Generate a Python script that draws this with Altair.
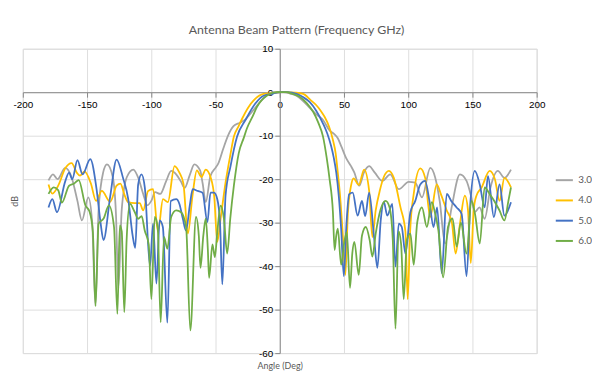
import altair as alt
import pandas as pd

series_names = ["3.0", "4.0", "5.0", "6.0"]
series_colors = ["#A5A5A5", "#FFC000", "#4472C4", "#70AD47"]

x_ticks = [-200, -150, -100, -50, 0, 50, 100, 150, 200]
y_ticks = [-60, -50, -40, -30, -20, -10, 0, 10]

gray = [(-180,-20.3),(-176.5,-18.9),(-173,-20.0),(-167,-17.4),(-162,-19.6),(-157.5,-25.0),(-154,-29.5),
        (-149,-24.2),(-146,-30),(-143.5,-49.0),(-141,-27),(-137.5,-18.5),(-134.5,-16.6),(-130,-19.5),
        (-127.5,-28),(-125.6,-45),(-123,-27),(-119,-19.5),(-114,-17.8),(-110,-19.8),(-106.3,-23.4),
        (-103,-26),(-100,-25),(-97,-23),(-93,-23.4),(-88.5,-20.5),(-84.5,-18.1),(-80.6,-18.9),(-77,-20.5),
        (-74,-22),(-70,-19),(-66.5,-16.6),(-62,-18),(-60,-21),(-57.6,-25.3),(-54,-19.3),(-50,-17.4),
        (-48,-16.5),(-44,-13),(-40,-9.8),(-36,-7.8),(-31,-7),(-27,-6.3),(-23,-5),(-18,-3.2),(-12,-1.2),
        (-5,0),(0,0),(3,0),(8,-0.3),(13,-0.8),(18,-2.0),(23.4,-3.6),(28,-5),(33.7,-6.4),(38.8,-8.8),
        (42,-9.5),(45.2,-10.6),(48,-12.5),(51.6,-15.1),(55.5,-17),(58.1,-18.5),(61.9,-21.5),(65.5,-18.5),
        (69.6,-17.0),(74,-18.5),(79.9,-20.4),(86,-18.9),(92.7,-22.3),(100.4,-20.6),(105.5,-20.8),
        (110.7,-24.2),(117.2,-17.4),(121,-19.6),(124.5,-25),(128.7,-34.8),(133.8,-26.5),(140.3,-18.9),
        (145.4,-20.4),(149,-24),(151.8,-27.6),(155.5,-26.5),(159.5,-29.1),(164,-22),(169.8,-18.1),
        (174.9,-19.7),(180,-17.8)]

yellow = [(-180,-21.2),(-177,-23.3),(-172,-21.2),(-167,-17.5),(-162,-16.3),(-158,-18.5),(-155.5,-19.2),
          (-152,-18.2),(-147,-21),(-143,-25),(-138.5,-22.7),(-132,-25.2),(-127,-21.5),(-124,-21),
          (-121,-23.5),(-117.9,-25.3),(-113,-25.5),(-109,-25.5),(-106.3,-27.2),(-102.5,-22.7),
          (-98.6,-22.3),(-94.8,-32.1),(-90.9,-24.6),(-87.1,-25.3),(-81.9,-17.0),(-78.1,-18.5),(-75,-21),
          (-71.5,-32.5),(-68,-24),(-64.5,-18),(-61,-19.5),(-57.6,-17.8),(-53.7,-19.7),(-51,-24),
          (-48.6,-34.4),(-46,-29),(-42.2,-20.8),(-38.5,-14.5),(-35.7,-10.2),(-32,-7.8),(-29.3,-6.1),
          (-24.5,-3.5),(-20.3,-1.9),(-12.6,-0.4),(-5,-0.2),(0,0),(5,0),(12,-0.1),(18.3,-0.4),(24,-1.8),
          (28.5,-3.0),(32,-4.3),(35,-5.7),(38.5,-8),(41.4,-11),(43.5,-14),(45.2,-18.5),(47,-24),
          (49.1,-32.9),(51.1,-42),(53,-28),(55.5,-21.5),(57.5,-19.8),(61.5,-21.3),(65.7,-17.8),
          (69.6,-22.7),(72.1,-33.3),(74.7,-27.2),(78,-22.5),(81,-19.5),(85,-18.1),(88.8,-19.7),(94,-26.5),
          (97.8,-32),(99.6,-47.6),(101.5,-32),(104.3,-23.4),(109.4,-17.5),(113.2,-19.7),(117.1,-28.7),
          (122.2,-21.2),(125.5,-23.5),(130,-27.2),(134,-30),(136.9,-37.1),(140.3,-30.2),(144.1,-23.8),
          (146.5,-27),(148.7,-39.3),(151,-27),(153.1,-23.8),(157,-22),(163.4,-18.1),(167.5,-20),
          (171.1,-25),(174.9,-19.7),(180,-21.9)]

blue = [(-180,-26.5),(-177,-24.6),(-173.4,-27.6),(-167,-20.5),(-164,-18.5),(-161.5,-20),(-157.5,-15.6),
        (-153.5,-18.9),(-147.5,-15.4),(-142.5,-22.5),(-139.5,-30),(-137.2,-34),(-132,-24),(-127,-15.5),
        (-122,-19.7),(-118,-24.5),(-114.5,-33),(-112.5,-35.8),(-110.2,-21.2),(-107.6,-18.9),(-105,-22),
        (-101,-40),(-98.6,-30.2),(-96,-44),(-93.5,-29.5),(-91,-31),(-87.5,-53),(-84.8,-25),(-80.6,-24.6),
        (-78.1,-25.7),(-75.5,-29),(-73,-31.8),(-70,-26),(-67.8,-22.3),(-63.9,-22.7),(-60.1,-23.1),
        (-56.3,-29.9),(-53.9,-23.1),(-51.2,-23.1),(-48.6,-24.6),(-46.5,-30),(-44.7,-44.2),(-42.2,-23.8),
        (-38.3,-17),(-33.2,-10.2),(-26.7,-6.4),(-19,-2.6),(-12.6,-0.8),(-5,-0.3),(0,0),(6,0),(13.1,-0.4),
        (18,-1.1),(23.4,-2.3),(28.5,-4.3),(33.7,-7.2),(37,-9.5),(40.1,-12.5),(42,-15),(44,-18.5),(46,-24),
        (47.8,-31.4),(49.9,-42.3),(52,-30),(54,-23.5),(56.8,-23.1),(60.6,-28.4),(64,-25),(66.5,-28.5),
        (69.6,-23.1),(73.4,-33.3),(76,-40.4),(78.6,-29.5),(81.1,-25.3),(83.7,-28.4),(87.6,-25.7),
        (90.1,-40.1),(92.7,-30.2),(95,-31),(97.8,-37.1),(101.7,-27.6),(105.5,-25),(109.4,-21.2),
        (113.2,-20.4),(116.5,-25),(119.7,-31),(122.5,-26.5),(126.1,-41.6),(130,-23.4),(133.5,-25),
        (137.7,-26.5),(141.6,-28),(145.4,-42.3),(148.5,-25),(151.8,-18.1),(155.7,-21.2),(159.5,-26.5),
        (162.1,-19.3),(166.7,-28.7),(171.1,-21.2),(174.9,-28.4),(180,-25.3)]

green = [(-180,-23.4),(-176,-21.9),(-172.5,-22.5),(-169.6,-25.4),(-164,-21.5),(-160,-21),(-156.5,-20.2),
         (-151.3,-26),(-148,-27.5),(-145.5,-32),(-143.4,-49.2),(-141,-30.2),(-137,-29),(-133,-26),
         (-129,-31),(-126.4,-51),(-124.5,-30.6),(-123,-32),(-121,-50.6),(-119.2,-34),(-116.6,-25.7),
         (-113,-27.5),(-110.2,-29.1),(-107.5,-28.5),(-105.1,-31.8),(-102,-35),(-99.9,-47.6),(-97.3,-28.7),
         (-95,-31),(-92.7,-52.9),(-90.1,-33.3),(-87.5,-36),(-84.5,-28.7),(-80.6,-27.2),(-76.8,-27.6),
         (-72.9,-31),(-69.6,-54.8),(-65.2,-28.7),(-63,-33),(-61.7,-40.4),(-59.5,-33),(-57.6,-29.1),
         (-56,-36),(-55,-42.7),(-52.4,-35),(-50.5,-37.9),(-48.6,-32.1),(-46,-26.1),(-43.5,-29),
         (-40.9,-37.1),(-38.5,-29),(-35.7,-21.5),(-31.9,-14),(-28,-10.5),(-25.5,-8.3),(-21,-5.5),
         (-17.8,-3.4),(-10.1,-0.8),(-2.3,0),(5.4,0),(10,-0.4),(15.7,-1.1),(21,-2.5),(26,-4.5),(30,-7),
         (33.7,-10.2),(36.5,-15),(38.8,-20),(41.4,-27.6),(42.7,-36.3),(44,-33),(45.2,-31.4),(47.8,-39.7),
         (50,-35),(52.2,-32.1),(54.7,-45),(56.5,-37),(58.1,-34.4),(61.5,-42),(64,-33),(67,-31),(70,-34),
         (72.1,-37.8),(74.7,-32.5),(78.5,-27),(82.4,-25),(85.5,-26.5),(88,-34),(90.1,-54.4),(92.5,-32),
         (94.5,-35),(96.5,-47.6),(99,-34),(101.7,-32.5),(104.3,-39.7),(107,-30),(110.7,-26.5),
         (114.5,-31),(118.4,-25.3),(121,-28),(123.5,-31.8),(127.2,-42.6),(131,-31),(134.5,-29),
         (137.7,-35.5),(141,-30),(145.4,-37.1),(149.3,-25),(152,-28),(155.7,-34.8),(159.5,-21.9),
         (163.4,-23.4),(167,-25),(171.1,-27.2),(174.9,-29.5),(178,-25),(180,-21.9)]

rows = []
for name, pts in zip(series_names, [gray, yellow, blue, green]):
    for i, (a, d) in enumerate(pts):
        rows.append({"freq": name, "angle": a, "db": d, "idx": i})
df = pd.DataFrame(rows)

W, H = 520, 308
x_dom = [-200, 200]
y_dom = [-60, 10]
y0_from_bottom = H * (0 - y_dom[0]) / (y_dom[1] - y_dom[0])
x0_from_left = W * (0 - x_dom[0]) / (x_dom[1] - x_dom[0])

FONT = "Lato"
TXT = "#595959"

lines = alt.Chart(df).mark_line(interpolate="monotone", strokeWidth=1.8).encode(
    x=alt.X("angle:Q",
            scale=alt.Scale(domain=x_dom, nice=False, zero=False),
            axis=alt.Axis(values=x_ticks, orient="bottom", offset=-y0_from_bottom,
                          labelExpr="'' + datum.value", labelFlush=False, labelOverlap=False,
                          title="Angle (Deg)",
                          titleY=y0_from_bottom + 13, titleBaseline="middle",
                          titleX=x0_from_left, titleAlign="center",
                          titleFontWeight="normal", titleFont=FONT, titleFontSize=9,
                          titleColor=TXT)),
    y=alt.Y("db:Q",
            scale=alt.Scale(domain=y_dom, nice=False, zero=False),
            axis=alt.Axis(values=y_ticks, orient="left", offset=-x0_from_left,
                          labelExpr="'' + datum.value", labelFlush=False, labelOverlap=False,
                          title="dB",
                          titleX=-x0_from_left - 8, titleY=H / 2, titleBaseline="middle",
                          titleAngle=270, titleAlign="center",
                          titleFontWeight="normal", titleFont=FONT, titleFontSize=9,
                          titleColor=TXT)),
    color=alt.Color("freq:N",
                    scale=alt.Scale(domain=series_names, range=series_colors),
                    legend=alt.Legend(title=None, orient="none", legendX=538, legendY=123,
                                      symbolType="stroke", symbolStrokeWidth=2, symbolSize=300,
                                      labelFontSize=10, labelColor=TXT, labelFont=FONT,
                                      rowPadding=5.5)),
    order="idx:Q",
)

chart = lines.properties(
    width=W, height=H,
    title=alt.TitleParams("Antenna Beam Pattern (Frequency GHz)", font=FONT, fontSize=12.5,
                          fontWeight="normal", color=TXT, anchor="middle", offset=7, dx=17),
    padding={"left": 15, "top": 39, "right": 56, "bottom": 25},
    autosize=alt.AutoSizeParams(type="none"),
).configure_view(stroke=None).configure_axis(
    grid=True, gridColor="#E3E3E3", gridWidth=1,
    domainColor="#BFBFBF", domainWidth=1, ticks=False,
    labelFont=FONT, labelFontSize=9, labelColor=TXT, labelPadding=5,
).configure(background="white")

chart.save("out.html", embed_options={"renderer": "svg", "actions": False})
